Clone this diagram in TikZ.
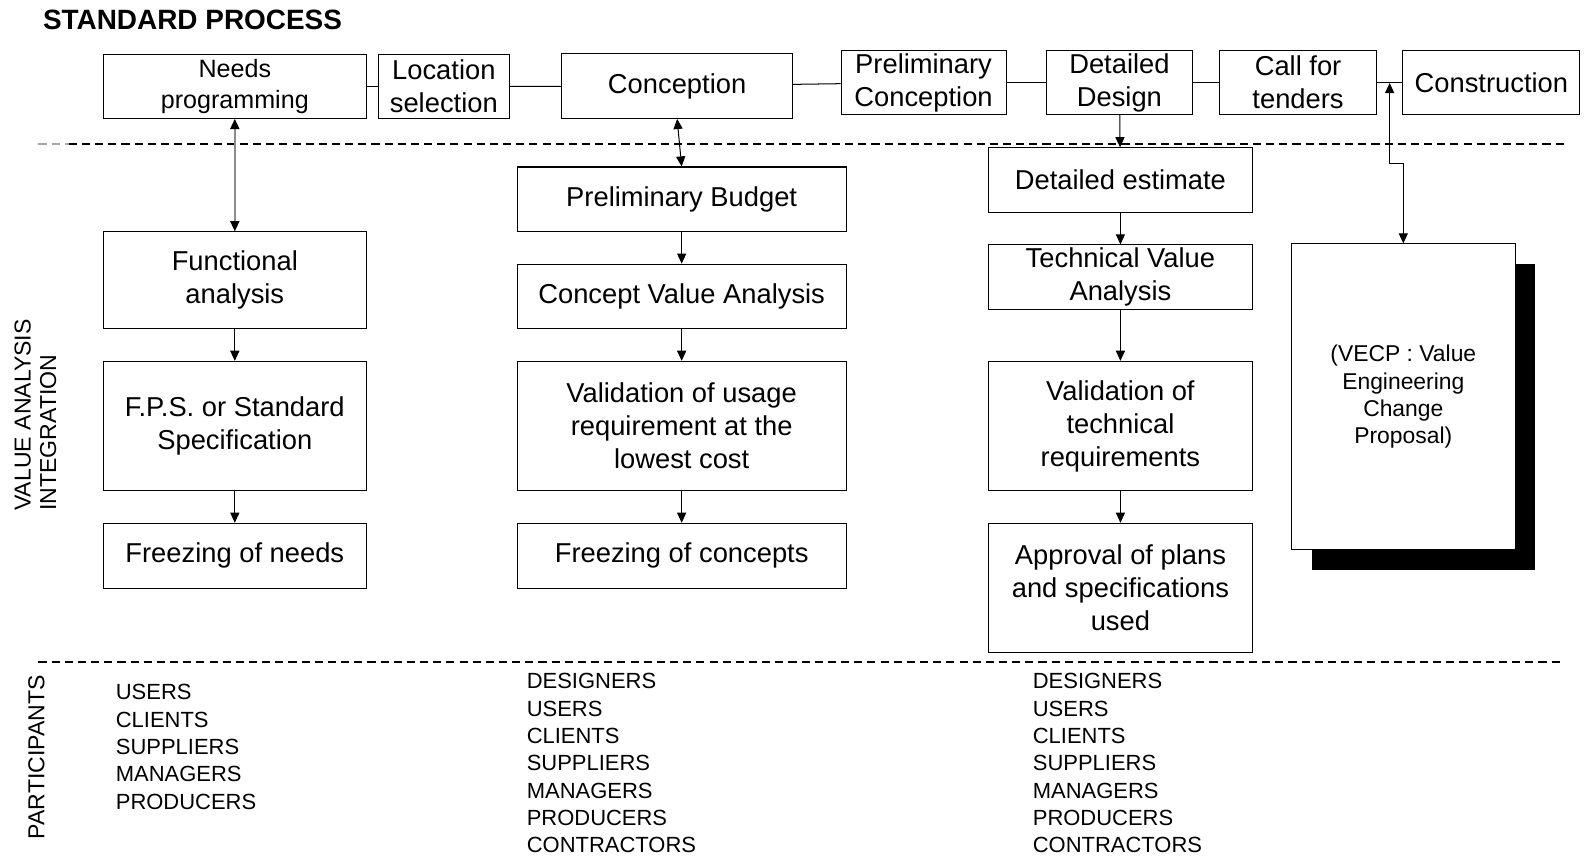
\documentclass[tikz,border=0pt]{standalone}
\usepackage{fontspec}
\setmainfont{Liberation Sans}
\usepackage{tikz}
\usetikzlibrary{arrows.meta}
\usetikzlibrary{shadows}
\tikzset{basic/.style={draw,rectangle,align=center,inner sep=0pt,
                       font=\fontsize{27}{32.5}\selectfont}}
\tikzset{who/.style={anchor=west,inner sep=0pt,font=\fontsize{21.7}{27}\selectfont}}
\def\rowsep{27}

\begin{document}
\begin{tikzpicture}[x=1pt,y=-1pt,line width=1pt,>={Triangle[length=10pt,width=9pt]}]
    \tikzstyle{arr}=[->]
    \tikzstyle{dbl}=[<->]
    \tikzstyle{sep}=[line width=1.7pt,dash pattern=on 8pt off 5pt]
    \tikzstyle{side}=[rotate=90,inner sep=0pt,font=\fontsize{22.8}{25}\selectfont]

    \useasboundingbox (0,0) rectangle (1568,846);

    % Title
    \node[anchor=west,inner sep=0pt,font=\bfseries\fontsize{27.6}{30}\selectfont] (title) at (42,20) {STANDARD PROCESS};

    % Draw the standard process row
    \node[basic,minimum width=260,minimum height=63,font=\fontsize{24.8}{30}\selectfont] (NP) at (232,85.5) {Needs\\programming};
    \node[basic,minimum width=129,minimum height=63] (LS) at (438.5,85.5) {Location\\selection};
    \node[basic,minimum width=228,minimum height=64] (CN) at (669,85) {Conception};
    \node[basic,minimum width=163,minimum height=63] (PC) at (912.5,81.5) {Preliminary\\Conception};
    \node[basic,minimum width=144,minimum height=63] (DD) at (1106,81.5) {Detailed\\Design};
    \node[basic,minimum width=155,minimum height=63] (CT) at (1282.5,81.5) {Call for\\tenders};
    \node[basic,minimum width=175,minimum height=63] (CO) at (1473.5,81.5) {Construction};

    \foreach \source / \dest in {NP/LS,LS/CN,CN/PC,PC/DD,DD/CT,CT/CO}
        \draw (\source) -- (\dest);

    % Separators
    \draw[sep,draw=black!35] (38,142.6) -- (68,142.6);
    \draw[sep] (68,142.6) -- (1548,142.6);
    \draw[sep] (38,654) -- (1545,654);

    % Side labels
    \node[side,align=left] (VAI) at (35,410) {VALUE ANALYSIS\\INTEGRATION};
    \node[side] (PART) at (36,748) {PARTICIPANTS};

    % Needs column
    \node[basic,minimum width=260,minimum height=96] (FA) at (232,277) {Functional\\analysis};
    \node[basic,minimum width=260,minimum height=128] (FS) at (232,421) {F.P.S. or Standard\\Specification};
    \node[basic,minimum width=260,minimum height=64] (FN) at (232,549) {Freezing of needs};

    % Concept column
    \node[basic,minimum width=325,minimum height=64] (PB) at (673.5,197) {Preliminary Budget};
    \node[basic,minimum width=325,minimum height=64] (CV) at (673.5,293) {Concept Value Analysis};
    \node[basic,minimum width=325,minimum height=128] (VU) at (673.5,421) {Validation of usage\\requirement at the\\lowest cost};
    \node[basic,minimum width=325,minimum height=64] (FC) at (673.5,549) {Freezing of concepts};

    % Design column
    \node[basic,minimum width=260,minimum height=64] (DE) at (1107,178) {Detailed estimate};
    \node[basic,minimum width=260,minimum height=64] (TV) at (1107,274) {Technical Value\\Analysis};
    \node[basic,minimum width=260,minimum height=128] (VT) at (1107,421) {Validation of\\technical\\requirements};
    \node[basic,minimum width=260,minimum height=128] (AP) at (1107,581) {Approval of plans\\and specifications\\used};

    % Change proposal
    \node[basic,fill=white,minimum width=221,minimum height=302,font=\fontsize{22.6}{27}\selectfont,
          drop shadow={shadow xshift=20pt,shadow yshift=-20pt,fill=black,opacity=1}]
        (VE) at (1386.5,392) {(VECP : Value\\Engineering\\Change\\Proposal)};

    % Links between the process and the analysis
    \draw[{Triangle[length=10pt,width=9pt,color=black]}-{Triangle[length=10pt,width=9pt,color=black]},
          draw=black!45,line width=1.5pt] (NP) -- (FA);
    \draw[dbl] (CN.south) -- (PB.north);
    \coordinate (tap) at (1373,82);
    \draw[dbl] (tap) -- ++(0,80) -| (VE.north);

    % Steps inside each column
    \foreach \source / \dest in {FA/FS,FS/FN,PB/CV,CV/VU,VU/FC,DD/DE,DE/TV,TV/VT,VT/AP}
        \draw[arr] (\source) -- (\dest);

    % Participants
    \foreach \who [count=\i] in {USERS,CLIENTS,SUPPLIERS,MANAGERS,PRODUCERS}
        \node[who] (PA-\i) at (114,{684+\rowsep*(\i-1)}) {\who};
    \foreach \who [count=\i] in {DESIGNERS,USERS,CLIENTS,SUPPLIERS,MANAGERS,PRODUCERS,CONTRACTORS}
        \node[who] (PB-\i) at (520,{673+\rowsep*(\i-1)}) {\who};
    \foreach \who [count=\i] in {DESIGNERS,USERS,CLIENTS,SUPPLIERS,MANAGERS,PRODUCERS,CONTRACTORS}
        \node[who] (PC-\i) at (1020,{673+\rowsep*(\i-1)}) {\who};
\end{tikzpicture}
\end{document}
